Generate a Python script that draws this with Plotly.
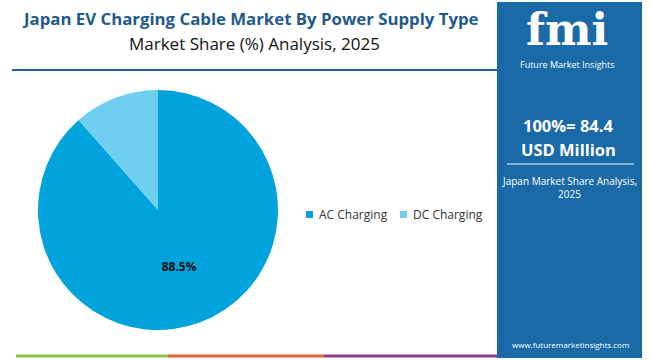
import plotly.graph_objects as go

categories = ["AC Charging", "DC Charging"]
shares = [88.5, 11.5]
colors = ["#00a3dc", "#6ecff0"]
labels_text = ["88.5%", ""]

W, H = 650, 360
def px(x): return x / W
def py(y): return 1 - y / H

fig = go.Figure()
fig.add_trace(go.Pie(
    labels=categories, values=shares, sort=False, direction="clockwise",
    rotation=0, marker=dict(colors=colors, line=dict(width=0)),
    text=labels_text, textinfo="text", textposition="inside",
    insidetextorientation="horizontal",
    textfont=dict(family="Open Sans", size=12, color="#111111", weight="bold"),
    domain=dict(x=[px(38), px(278)], y=[py(330), py(90)]),
    hoverinfo="label+percent", showlegend=False,
))

def hline(x0, x1, y, color, width):
    return dict(type="line", x0=px(x0), x1=px(x1), y0=py(y), y1=py(y), xref="paper", yref="paper",
                line=dict(color=color, width=width))

shapes = [
    hline(12, 497, 70, "#1f6196", 2),
    dict(type="rect", x0=px(497), x1=px(642), y0=py(358), y1=py(2), xref="paper", yref="paper",
         fillcolor="#1a6aa8", line=dict(width=0), layer="below"),
    hline(507, 634, 164, "#a9cbe6", 1.5),
    hline(16, 168, 356, "#8bc34a", 3),
    hline(168, 324, 356, "#e0643a", 3),
    hline(324, 497, 356, "#8e3b8e", 3),
]

def ann(x, y, text, size, color, bold=False, family="Open Sans", xanchor="center"):
    return dict(x=px(x), y=py(y), xref="paper", yref="paper", text=text, showarrow=False,
                xanchor=xanchor, yanchor="middle",
                font=dict(family=family, size=size, color=color, weight="bold" if bold else "normal"))

annotations = [
    ann(250, 18, "Japan EV Charging Cable Market By Power Supply Type", 16.8, "#1f5a8a", True),
    ann(254, 43, "Market Share (%) Analysis, 2025", 17, "#111111"),
    ann(567, 29, "fmi", 44, "#ffffff", True, "DejaVu Serif"),
    ann(567, 64, "Future Market Insights", 9, "#ffffff"),
    ann(568, 125, "100%= 84.4", 16.5, "#ffffff", True),
    ann(568, 149, "USD Million", 16.5, "#ffffff", True),
    ann(569, 181, "Japan Market Share Analysis,", 10, "#ffffff"),
    ann(569, 194, "2025", 10, "#ffffff"),
    ann(570, 344, "www.futuremarketinsights.com", 8, "#ffffff"),
]

# custom legend built from the category / colour arrays
legend_x = [306, 400]
for cat, col, lx in zip(categories, colors, legend_x):
    shapes.append(dict(type="rect", x0=px(lx), x1=px(lx + 7), y0=py(218), y1=py(211),
                       xref="paper", yref="paper", fillcolor=col, line=dict(width=0)))
    annotations.append(ann(lx + 11, 214, cat, 12, "#333333", xanchor="left"))

fig.update_layout(
    width=W, height=H, margin=dict(l=0, r=0, t=0, b=0),
    paper_bgcolor="#ffffff", plot_bgcolor="#ffffff",
    shapes=shapes, annotations=annotations, showlegend=False,
)

fig.write_html("out.html", post_script="document.body.style.margin='0';",
               config={"displayModeBar": False})
